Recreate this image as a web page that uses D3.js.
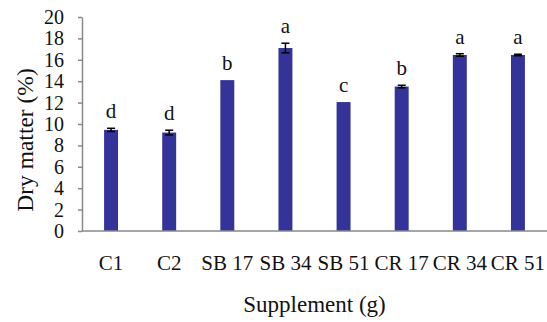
<!DOCTYPE html>
<html>
<head>
<meta charset="utf-8">
<script src="https://cdn.jsdelivr.net/npm/d3@7/dist/d3.min.js"></script>
<style>
  html, body { margin: 0; padding: 0; background: #fff; }
  svg { display: block; font-family: "Liberation Serif", "Times New Roman", serif; }
</style>
</head>
<body>
<svg id="chart" width="547" height="322"></svg>
<script>
// Dry matter (%) by supplement treatment
const categories = ["C1", "C2", "SB 17", "SB 34", "SB 51", "CR 17", "CR 34", "CR 51"];
const values     = [9.45, 9.2, 14.1, 17.1, 12.05, 13.5, 16.45, 16.45];
const errors     = [0.15, 0.22, 0, 0.45, 0, 0.12, 0.12, 0.07];
const letters    = ["d", "d", "b", "a", "c", "b", "a", "a"];
const yTicks     = [0, 2, 4, 6, 8, 10, 12, 14, 16, 18, 20];

const svg = d3.select("#chart");
const margin = { left: 82, right: 0, top: 17, bottom: 91 };
const W = 547, H = 322;

const x = d3.scaleBand()
  .domain(categories)
  .range([margin.left, W - margin.right])
  .paddingInner(0.76)
  .paddingOuter(0.38);

const y = d3.scaleLinear()
  .domain([0, 20])
  .range([H - margin.bottom, margin.top]);

const axisColor = "#898989";

// Bars
svg.append("g").selectAll("rect")
  .data(categories)
  .join("rect")
  .attr("x", d => x(d))
  .attr("width", x.bandwidth())
  .attr("y", (d, i) => y(values[i]))
  .attr("height", (d, i) => y(0) - y(values[i]))
  .attr("fill", "#333399");

// Error bars
const eb = svg.append("g").attr("stroke", "#000").attr("stroke-width", 1.5);
categories.forEach((c, i) => {
  if (!errors[i]) return;
  const cx = x(c) + x.bandwidth() / 2;
  const y1 = y(values[i] + errors[i]), y2 = y(values[i] - errors[i]);
  eb.append("line").attr("x1", cx).attr("x2", cx).attr("y1", y1).attr("y2", y2);
  eb.append("line").attr("x1", cx - 4).attr("x2", cx + 4).attr("y1", y1).attr("y2", y1);
  eb.append("line").attr("x1", cx - 4).attr("x2", cx + 4).attr("y1", y2).attr("y2", y2);
});

// Significance letters
svg.append("g").selectAll("text")
  .data(categories)
  .join("text")
  .attr("x", d => x(d) + x.bandwidth() / 2)
  .attr("y", (d, i) => y(values[i] + errors[i]) - 10)
  .attr("text-anchor", "middle")
  .attr("font-size", 21)
  .attr("fill", "#111")
  .text((d, i) => letters[i]);

// Y axis
const yAxis = svg.append("g")
  .attr("transform", `translate(${margin.left},0)`)
  .call(d3.axisLeft(y).tickValues(yTicks).tickSize(4).tickPadding(14).tickSizeOuter(0));
yAxis.select(".domain").attr("stroke", axisColor).attr("stroke-width", 1.5);
yAxis.selectAll(".tick line").attr("stroke", axisColor).attr("stroke-width", 1.5);
yAxis.selectAll(".tick text")
  .attr("font-size", 20).attr("font-family", "Liberation Serif, serif").attr("fill", "#111");

// X axis line
svg.append("line")
  .attr("x1", margin.left).attr("x2", W)
  .attr("y1", y(0)).attr("y2", y(0))
  .attr("stroke", axisColor).attr("stroke-width", 1.5);

// X category labels
svg.append("g").selectAll("text")
  .data(categories)
  .join("text")
  .attr("x", d => x(d) + x.bandwidth() / 2)
  .attr("y", 270)
  .attr("text-anchor", "middle")
  .attr("font-size", 21)
  .attr("fill", "#111")
  .text(d => d);

// Axis titles
svg.append("text")
  .attr("x", (margin.left + W) / 2)
  .attr("y", 312)
  .attr("text-anchor", "middle")
  .attr("font-size", 23)
  .attr("fill", "#111")
  .text("Supplement (g)");

svg.append("text")
  .attr("transform", `translate(33,${(y(0) + y(20)) / 2 + 16}) rotate(-90)`)
  .attr("text-anchor", "middle")
  .attr("font-size", 23.5)
  .attr("fill", "#111")
  .text("Dry matter (%)");
</script>
</body>
</html>
